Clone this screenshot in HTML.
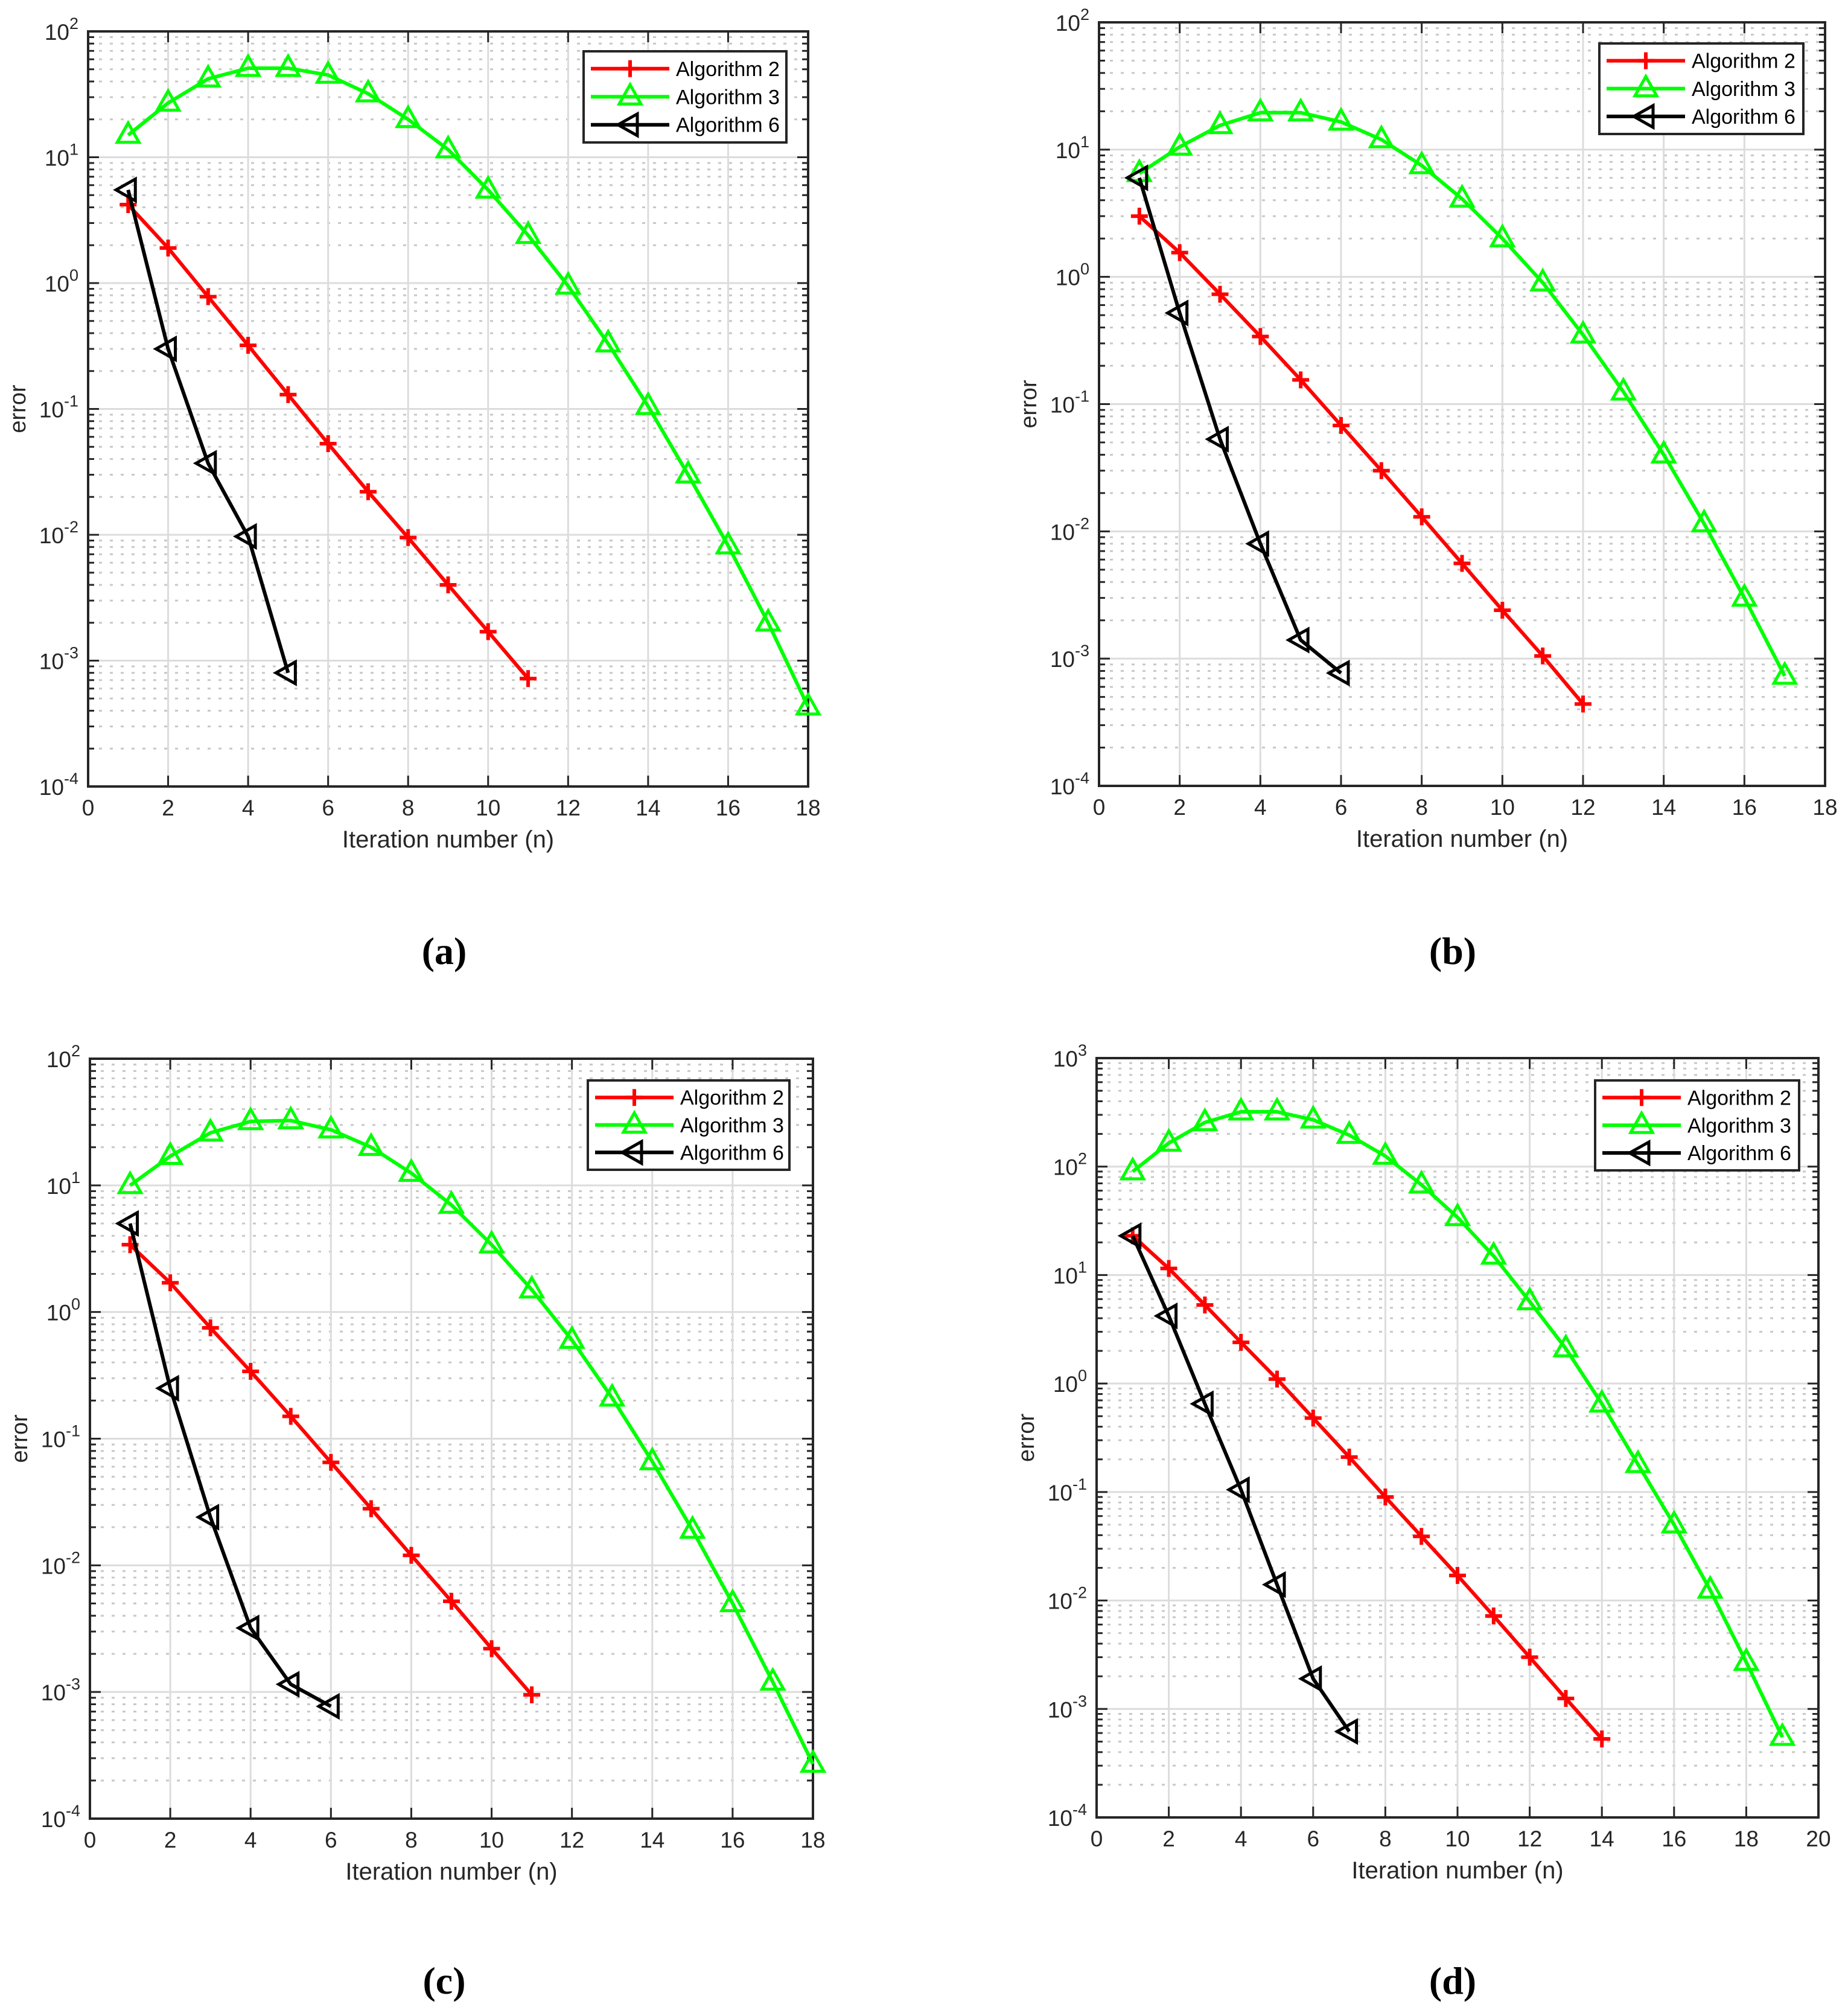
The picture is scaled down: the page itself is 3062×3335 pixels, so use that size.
<!DOCTYPE html>
<html><head><meta charset="utf-8"><style>
html,body{margin:0;padding:0;background:#fff;}
svg{display:block;font-family:"Liberation Sans",sans-serif;}
</style></head><body>
<svg id="fig" width="3062" height="3335" viewBox="0 0 3062 3335" xmlns="http://www.w3.org/2000/svg"></svg>
<script>
const a_alg2 = [4.2,1.9,0.78,0.32,0.13,0.053,0.022,0.0095,0.004,0.0017,0.00072];
const a_alg3 = [15,27,42,51,51,45,32,20,11.5,5.5,2.4,0.95,0.33,0.105,0.030,0.0082,0.002,0.00043];
const a_alg6 = [5.5,0.3,0.037,0.0097,0.0008];
const b_alg2 = [3.0,1.55,0.73,0.34,0.155,0.068,0.03,0.013,0.0056,0.0024,0.00105,0.00044];
const b_alg3 = [6.5,10.5,15.5,19.5,19.5,16.5,12,7.5,4.1,2.0,0.9,0.35,0.125,0.04,0.0115,0.003,0.00073];
const b_alg6 = [6,0.52,0.053,0.008,0.0014,0.00077];
const c_alg2 = [3.4,1.7,0.75,0.34,0.15,0.065,0.028,0.012,0.0052,0.0022,0.00095];
const c_alg3 = [10,17,26,32,32.5,27.5,20,12.5,7,3.4,1.5,0.6,0.21,0.066,0.019,0.005,0.0012,0.00027];
const c_alg6 = [5,0.25,0.024,0.0032,0.00115,0.00077];
const d_alg2 = [23,11.5,5.3,2.4,1.1,0.48,0.21,0.09,0.039,0.017,0.0072,0.003,0.00125,0.00053];
const d_alg3 = [90,165,255,320,320,270,195,125,68,34,15,5.7,2.1,0.65,0.18,0.05,0.0125,0.0027,0.00055];
const d_alg6 = [23,4.2,0.65,0.105,0.014,0.0019,0.00062];
const seriesNames = ["Algorithm 2","Algorithm 3","Algorithm 6"];
const xTicksAC = [0,2,4,6,8,10,12,14,16,18];
const xTicksD = [0,2,4,6,8,10,12,14,16,18,20];
const decadesABC = [-4,-3,-2,-1,0,1,2];
const decadesD = [-4,-3,-2,-1,0,1,2,3];

const NS="http://www.w3.org/2000/svg";
const svg=document.getElementById('fig');
function mk(tag,attrs,parent){const e=document.createElementNS(NS,tag);for(const k in attrs)e.setAttribute(k,attrs[k]);(parent||svg).appendChild(e);return e;}

const panels=[
 {id:'a',L:146,R:1339,T:52,B:1303,xmax:18,xt:xTicksAC,dec:decadesABC,s:[a_alg2,a_alg3,a_alg6],leg:[967,85,1303,236],lab:[736,1575]},
 {id:'b',L:1821,R:3024,T:37,B:1302,xmax:18,xt:xTicksAC,dec:decadesABC,s:[b_alg2,b_alg3,b_alg6],leg:[2650,72,2988,222],lab:[2407,1575]},
 {id:'c',L:149,R:1347,T:1754,B:3013,xmax:18,xt:xTicksAC,dec:decadesABC,s:[c_alg2,c_alg3,c_alg6],leg:[974,1790,1308,1938],lab:[736,3281]},
 {id:'d',L:1817,R:3013,T:1753,B:3011,xmax:20,xt:xTicksD,dec:decadesD,s:[d_alg2,d_alg3,d_alg6],leg:[2643,1790,2981,1939],lab:[2407,3281]}
];
const colors=['#ff0000','#00ff00','#000000'];

function marker(g,kind,x,y){
  let m;
  if(kind===0){m=mk('path',{d:`M${x-14},${y}H${x+14}M${x},${y-14}V${y+14}`,stroke:'#ff0000','stroke-width':6,fill:'none'},g);}
  else if(kind===1){m=mk('path',{d:`M${x},${y-20}L${x+18},${y+12}L${x-18},${y+12}Z`,stroke:'#00ff00','stroke-width':5,fill:'none'},g);}
  else {m=mk('path',{d:`M${x-20},${y}L${x+12},${y-18}L${x+12},${y+18}Z`,stroke:'#000','stroke-width':5,fill:'none'},g);}
  return m;
}

panels.forEach(p=>{
  const g=mk('g',{});
  
  
  const lo=p.dec[0],hi=p.dec[p.dec.length-1];
  const X=v=>p.L+(p.R-p.L)*v/p.xmax;
  const Y=v=>p.B-(p.B-p.T)*(Math.log10(v)-lo)/(hi-lo);
  for(let d=lo;d<hi;d++){for(let k=2;k<=9;k++){const y=Y(k*Math.pow(10,d));
    mk('line',{x1:p.L,x2:p.R,y1:y,y2:y,stroke:'#c8c8c8','stroke-width':3,'stroke-dasharray':'5,13'},g);
    mk('line',{x1:p.L,x2:p.L+10,y1:y,y2:y,stroke:'#262626','stroke-width':3},g);
    mk('line',{x1:p.R-10,x2:p.R,y1:y,y2:y,stroke:'#262626','stroke-width':3},g);}}
  p.dec.forEach(d=>{const y=Y(Math.pow(10,d));
    mk('line',{x1:p.L,x2:p.R,y1:y,y2:y,stroke:'#dcdcdc','stroke-width':3},g);
    mk('line',{x1:p.L,x2:p.L+18,y1:y,y2:y,stroke:'#262626','stroke-width':3},g);
    mk('line',{x1:p.R-18,x2:p.R,y1:y,y2:y,stroke:'#262626','stroke-width':3},g);
    const t=mk('text',{x:p.L-16,y:y+14,'text-anchor':'end','font-size':37,fill:'#262626'},g);
    
    
    t.textContent='10';
    const sup=mk('tspan',{dy:-18,'font-size':27},t);sup.textContent=String(d);
  });
  p.xt.forEach(v=>{const x=X(v);
    mk('line',{x1:x,x2:x,y1:p.T,y2:p.B,stroke:'#dcdcdc','stroke-width':3},g);
    mk('line',{x1:x,x2:x,y1:p.B,y2:p.B-18,stroke:'#262626','stroke-width':3},g);
    mk('line',{x1:x,x2:x,y1:p.T,y2:p.T+18,stroke:'#262626','stroke-width':3},g);
    const t=mk('text',{x:x,y:p.B+48,'text-anchor':'middle','font-size':37,fill:'#262626'},g);
    
    
    t.textContent=String(v);
  });
  const fr=mk('rect',{x:p.L,y:p.T,width:p.R-p.L,height:p.B-p.T,fill:'none',stroke:'#262626','stroke-width':4},g);
  
  
  p.s.forEach((arr,si)=>{
    const sg=mk('g',{},g);
    
    
    const pts=arr.map((v,i)=>X(i+1)+','+Y(v)).join(' ');
    mk('polyline',{points:pts,fill:'none',stroke:colors[si],'stroke-width':6,'stroke-linejoin':'round'},sg);
    arr.forEach((v,i)=>{const m=marker(sg,si,X(i+1),Y(v));
      
      });
  });
  const xl=mk('text',{x:(p.L+p.R)/2,y:p.B+101,'text-anchor':'middle','font-size':40,fill:'#262626'},g);
  
  
  xl.textContent='Iteration number (n)';
  const yc=(p.T+p.B)/2, yx=p.L-104;
  const yl=mk('text',{x:yx,y:yc,'text-anchor':'middle','font-size':38,fill:'#262626',transform:`rotate(-90 ${yx} ${yc})`},g);
  
  
  yl.textContent='error';
  const [lx1,ly1,lx2,ly2]=p.leg;
  const lg=mk('g',{},g);
  
  
  mk('rect',{x:lx1,y:ly1,width:lx2-lx1,height:ly2-ly1,fill:'#fff',stroke:'#262626','stroke-width':4},lg);
  const rh=(ly2-ly1)/3.25;
  seriesNames.forEach((nm,si)=>{
    const y=ly1+rh*(si+0.62);
    const eg=mk('g',{},lg);
    
    
    mk('line',{x1:lx1+12,x2:lx1+142,y1:y,y2:y,stroke:colors[si],'stroke-width':6},eg);
    marker(eg,si,lx1+77,y);
    const t=mk('text',{x:lx1+153,y:y+12,'font-size':34,fill:'#000'},eg);
    t.textContent=nm;
  });
  const pl=mk('text',{x:p.lab[0],y:p.lab[1]+22,'text-anchor':'middle','font-size':64,'font-weight':'bold','font-family':'"Liberation Serif",serif',fill:'#000'},g);
  
  
  pl.textContent='('+p.id+')';
});
</script>
</body></html>
